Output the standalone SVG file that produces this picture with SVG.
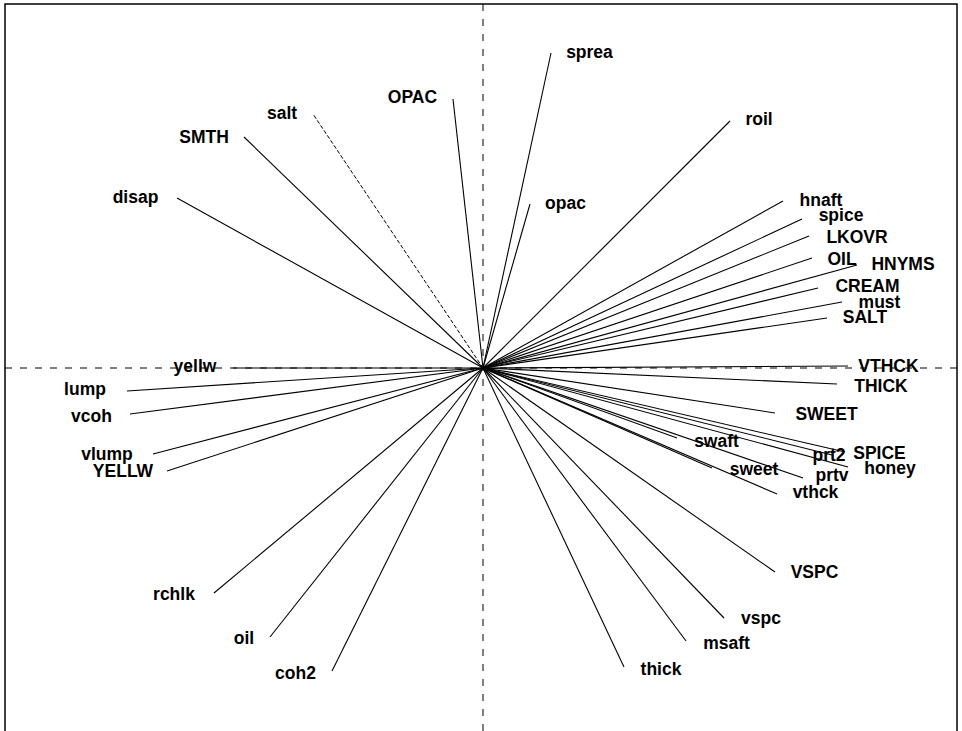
<svg xmlns="http://www.w3.org/2000/svg" width="962" height="731" viewBox="0 0 962 731">
<style>
.frame{fill:none;stroke:#000;stroke-width:1.5}
.axis{stroke:#000;stroke-width:1;stroke-dasharray:7 8;fill:none}
.ln{stroke:#000;stroke-width:1.1;fill:none}
.lnd{stroke:#000;stroke-width:1;fill:none;stroke-dasharray:4 2}
text{font-family:"Liberation Sans",Arial,sans-serif;font-weight:bold;font-size:17.5px;fill:#000;text-anchor:middle}
</style>
<rect width="962" height="731" fill="#fff"/>
<path class="frame" d="M5,740 V4 H957 V740"/>
<g id="axes">
<line class="axis" x1="5" y1="368" x2="957" y2="368"/>
<line class="axis" x1="483" y1="4" x2="483" y2="731"/>
</g>
<g id="connectors">
<line class="ln" x1="483" y1="368" x2="551" y2="53"/>
<line class="ln" x1="483" y1="368" x2="453" y2="99"/>
<line class="lnd" x1="483" y1="368" x2="313" y2="114"/>
<line class="ln" x1="483" y1="368" x2="244" y2="137"/>
<line class="ln" x1="483" y1="368" x2="730" y2="121"/>
<line class="ln" x1="483" y1="368" x2="177" y2="198"/>
<line class="ln" x1="483" y1="368" x2="530" y2="204"/>
<line class="ln" x1="483" y1="368" x2="783" y2="201"/>
<line class="ln" x1="483" y1="368" x2="802" y2="219"/>
<line class="ln" x1="483" y1="368" x2="809" y2="236"/>
<line class="ln" x1="483" y1="368" x2="812" y2="258"/>
<line class="ln" x1="483" y1="368" x2="857" y2="265"/>
<line class="ln" x1="483" y1="368" x2="818" y2="288"/>
<line class="ln" x1="483" y1="368" x2="842" y2="302"/>
<line class="ln" x1="483" y1="368" x2="827" y2="318"/>
<line class="ln" x1="483" y1="368" x2="848" y2="366"/>
<line class="ln" x1="483" y1="368" x2="837" y2="384"/>
<line class="ln" x1="483" y1="368" x2="775" y2="413"/>
<line class="ln" x1="483" y1="368" x2="845" y2="452"/>
<line class="ln" x1="483" y1="368" x2="832" y2="455"/>
<line class="ln" x1="483" y1="368" x2="848" y2="467"/>
<line class="ln" x1="483" y1="368" x2="803" y2="478"/>
<line class="ln" x1="483" y1="368" x2="777" y2="494"/>
<line class="ln" x1="483" y1="368" x2="677" y2="438"/>
<line class="ln" x1="483" y1="368" x2="712" y2="468"/>
<line class="ln" x1="483" y1="368" x2="775" y2="572"/>
<line class="ln" x1="483" y1="368" x2="724" y2="618"/>
<line class="ln" x1="483" y1="368" x2="686" y2="641"/>
<line class="ln" x1="483" y1="368" x2="624" y2="667"/>
<line class="ln" x1="483" y1="368" x2="214" y2="593"/>
<line class="ln" x1="483" y1="368" x2="270" y2="637"/>
<line class="ln" x1="483" y1="368" x2="332" y2="671"/>
<line class="ln" x1="483" y1="368" x2="127" y2="391"/>
<line class="ln" x1="483" y1="368" x2="130" y2="414"/>
<line class="ln" x1="483" y1="368" x2="153" y2="454"/>
<line class="ln" x1="483" y1="368" x2="167" y2="471"/>
<line class="ln" x1="483" y1="368" x2="233" y2="368"/>
</g>
<g id="n-sprea"><text x="589.5" y="58">sprea</text></g>
<g id="n-OPAC"><text x="412.5" y="103">OPAC</text></g>
<g id="n-salt"><text x="282" y="119">salt</text></g>
<g id="n-SMTH"><text x="204" y="143">SMTH</text></g>
<g id="n-roil"><text x="759" y="125">roil</text></g>
<g id="n-disap"><text x="135.5" y="203">disap</text></g>
<g id="n-opac"><text x="565.5" y="209">opac</text></g>
<g id="n-hnaft"><text x="821" y="206">hnaft</text></g>
<g id="n-spice"><text x="841" y="221">spice</text></g>
<g id="n-LKOVR"><text x="857" y="243">LKOVR</text></g>
<g id="n-OIL"><text x="842" y="265">OIL</text></g>
<g id="n-HNYMS"><text x="903" y="270">HNYMS</text></g>
<g id="n-CREAM"><text x="867.5" y="292">CREAM</text></g>
<g id="n-must"><text x="879.5" y="308">must</text></g>
<g id="n-SALT"><text x="865" y="323">SALT</text></g>
<g id="n-VTHCK"><text x="888.5" y="372">VTHCK</text></g>
<g id="n-THICK"><text x="881" y="392">THICK</text></g>
<g id="n-SWEET"><text x="826.5" y="420">SWEET</text></g>
<g id="n-SPICE"><text x="879.5" y="459">SPICE</text></g>
<g id="n-prt2"><text x="829" y="461">prt2</text></g>
<g id="n-honey"><text x="890" y="474">honey</text></g>
<g id="n-prtv"><text x="832" y="481">prtv</text></g>
<g id="n-vthck"><text x="815.5" y="498">vthck</text></g>
<g id="n-swaft"><text x="716.5" y="447">swaft</text></g>
<g id="n-sweet"><text x="754" y="475">sweet</text></g>
<g id="n-VSPC"><text x="814.5" y="578">VSPC</text></g>
<g id="n-vspc"><text x="761" y="624">vspc</text></g>
<g id="n-msaft"><text x="726.5" y="649">msaft</text></g>
<g id="n-thick"><text x="661" y="675">thick</text></g>
<g id="n-rchlk"><text x="174" y="600">rchlk</text></g>
<g id="n-oil"><text x="244" y="644">oil</text></g>
<g id="n-coh2"><text x="295.5" y="679">coh2</text></g>
<g id="n-lump"><text x="85" y="395">lump</text></g>
<g id="n-vcoh"><text x="91.5" y="422">vcoh</text></g>
<g id="n-vlump"><text x="107" y="460">vlump</text></g>
<g id="n-YELLW"><text x="123" y="477">YELLW</text></g>
<g id="n-yellw"><text x="195" y="372">yellw</text></g>
</svg>
